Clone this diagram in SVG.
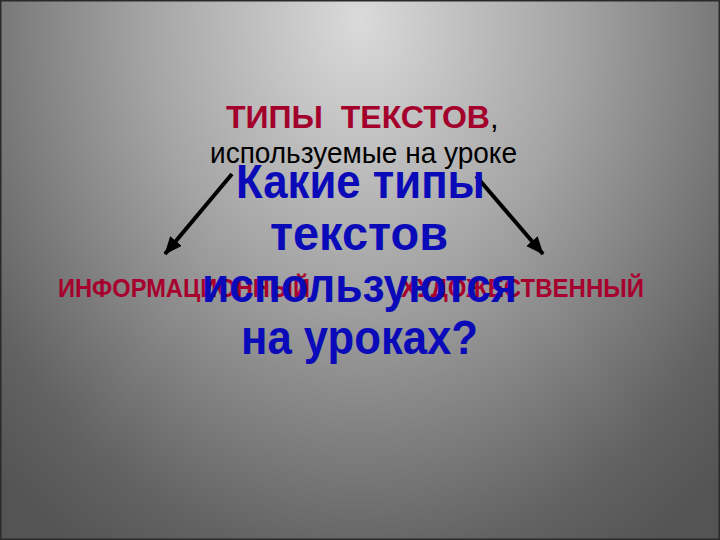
<svg xmlns="http://www.w3.org/2000/svg" width="720" height="540" viewBox="0 0 720 540">
  <defs>
    <radialGradient id="bg" gradientUnits="userSpaceOnUse" cx="360" cy="20" r="640" gradientTransform="translate(360 20) scale(0.8 1) translate(-360 -20)">
      <stop offset="0" stop-color="#dadada"/>
      <stop offset="0.42" stop-color="#a4a4a4"/>
      <stop offset="0.85" stop-color="#626262"/>
      <stop offset="1" stop-color="#545454"/>
    </radialGradient>
    <marker id="arrow" markerUnits="userSpaceOnUse" markerWidth="20" markerHeight="16" refX="17" refY="7.5" orient="auto">
      <path d="M0,0 L18,7.5 L0,15 Z" fill="#000"/>
    </marker>
    <style>
      .title { font-family: "Liberation Sans", Arial, sans-serif; font-weight: bold; font-size: 31px; fill: #a4002c; }
      .comma { font-family: "Liberation Sans", Arial, sans-serif; font-size: 31px; fill: #000; }
      .sub { font-family: "Liberation Sans", Arial, sans-serif; font-size: 29px; fill: #000; }
      .label { font-family: "Liberation Sans", Arial, sans-serif; font-weight: bold; font-size: 25px; fill: #a8002e; }
      .q { font-family: "Liberation Sans", Arial, sans-serif; font-weight: bold; font-size: 49px; fill: #0a0ab8; }
      .conn { stroke: #000; stroke-width: 4; fill: none; marker-end: url(#arrow); }
    </style>
  </defs>

  <rect x="0" y="0" width="720" height="540" fill="url(#bg)"/>
  <rect x="0.75" y="0.75" width="718.5" height="538.5" fill="none" stroke="#2a2a2a" stroke-width="1.5"/>

  <g id="title">
    <text class="title" x="226" y="128" textLength="264" lengthAdjust="spacingAndGlyphs" xml:space="preserve">ТИПЫ  ТЕКСТОВ</text>
    <text class="comma" x="490" y="128">,</text>
    <text class="sub" x="210" y="163" textLength="307" lengthAdjust="spacingAndGlyphs">используемые на уроке</text>
  </g>

  <g id="connectors">
    <line class="conn" x1="232" y1="174" x2="165" y2="254"/>
    <line class="conn" x1="476" y1="176" x2="543" y2="254"/>
  </g>

  <g id="node-info">
    <text class="label" x="58" y="297" textLength="252" lengthAdjust="spacingAndGlyphs">ИНФОРМАЦИОННЫЙ</text>
  </g>
  <g id="node-art">
    <text class="label" x="401" y="297" textLength="243" lengthAdjust="spacingAndGlyphs">ХУДОЖЕСТВЕННЫЙ</text>
  </g>

  <g id="question">
    <text class="q" x="236" y="198" textLength="249" lengthAdjust="spacingAndGlyphs">Какие типы</text>
    <text class="q" x="270" y="250" textLength="178" lengthAdjust="spacingAndGlyphs">текстов</text>
    <text class="q" x="202" y="302" textLength="315" lengthAdjust="spacingAndGlyphs">используются</text>
    <text class="q" x="241" y="354" textLength="237" lengthAdjust="spacingAndGlyphs">на уроках?</text>
  </g>
</svg>
